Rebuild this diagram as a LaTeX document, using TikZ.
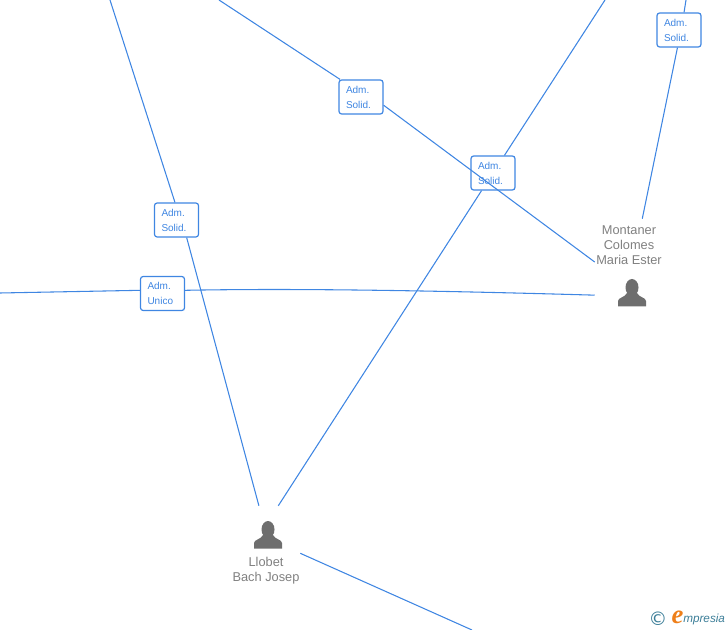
\documentclass[tikz,border=0pt]{standalone}
\usepackage{fontspec}
\setmainfont{Liberation Sans}
\newfontfamily\logoserif{Liberation Serif}
\newfontfamily\logomark{DejaVu Sans}
\usetikzlibrary{arrows.meta,calc,positioning}
\definecolor{linkblue}{HTML}{3F86E2}
\definecolor{namegrey}{HTML}{808080}
\definecolor{icongrey}{HTML}{6E6E6E}
\definecolor{logoteal}{HTML}{3C7E98}
\definecolor{logoorange}{HTML}{EE7F1A}

\begin{document}
\begin{tikzpicture}[
  x=0.75pt, y=-0.75pt,
  role/.style={draw=linkblue, fill=white, rounded corners=2pt, line width=0.9pt, align=left, text=linkblue,
    font=\fontsize{7.5pt}{11.2pt}\selectfont, text width=22.5pt, minimum height=25.5pt, inner ysep=0pt, inner xsep=5.25pt},
  person/.style={minimum width=51pt, minimum height=60pt, inner sep=0pt},
  personname/.style={align=center, text=namegrey, font=\fontsize{9.6pt}{11.2pt}\selectfont, inner sep=0pt},
  link/.style={draw=linkblue, line width=0.8pt},
  personicon/.pic={
    \fill[icongrey] (0,-5.5) ellipse (6.5 and 8.5);
    \fill[icongrey] (-14,13.5) -- (-14,8) .. controls (-14,4.5) and (-7,4.5) .. (-5,0)
      -- (5,0) .. controls (7,4.5) and (14,4.5) .. (14,8) -- (14,13.5) -- cycle;
  }
]
\useasboundingbox (0,0) rectangle (728,630);

% free ends at the picture edge
\coordinate (edgeA) at (110,0);
\coordinate (edgeB) at (219,0);
\coordinate (edgeC) at (605,0);
\coordinate (edgeD) at (686,0);
\coordinate (edgeE) at (0,293);
\coordinate (edgeF) at (472,630);

\node[person] (llobet) at (266,546) {};
\node[person, minimum width=52.5pt, minimum height=68.25pt] (montaner) at (630,264.5) {};
\pic at (268,535) {personicon};
\pic at (632,293) {personicon};
\node[personname] (llobetName) at (266,570.5) {Llobet\\Bach Josep};
\node[personname] (montanerName) at (629,245) {Montaner\\Colomes\\Maria Ester};

\node[role] (solidA) at (176.5,220) {Adm.\\Solid.};
\node[role] (solidB) at (361,97) {Adm.\\Solid.};
\node[role] (solidC) at (493,173) {Adm.\\Solid.};
\node[role] (solidD) at (679,30) {Adm.\\Solid.};
\node[role] (unico) at (162.5,293.5) {Adm.\\Unico};

\draw[link] (edgeA) -- (solidA.95);
\draw[link] (solidA.300) -- (llobet.100);
\draw[link] (edgeB) -- (solidB.140);
\draw[link] (solidB.340) -- (montaner.176);
\draw[link] (edgeC) -- (solidC.57);
\draw[link] (solidC.237) -- (llobet.73);
\draw[link] (edgeD) -- (solidD.74);
\draw[link] (solidD.265) -- (montaner.75);
\draw[link] (edgeE) -- (unico.172);
\draw[link] (unico.8) .. controls (300,288) and (450,291) .. (montaner.221);
\draw[link] (llobet.-12) -- (edgeF);

% logo
\node[text=logoteal, font=\logomark\fontsize{14pt}{14pt}\selectfont, inner sep=0pt] (logoMark) at (658,618.5) {©};
\node[text=logoorange, font=\logoserif\itshape\bfseries\fontsize{20pt}{20pt}\selectfont, inner sep=0pt] (logoE) at (677.5,617.5) {e};
\node[text=logoteal, font=\itshape\fontsize{8.8pt}{10pt}\selectfont, inner sep=0pt, anchor=west] (logoText) at (683,619) {mpresia};
\end{tikzpicture}
\end{document}
